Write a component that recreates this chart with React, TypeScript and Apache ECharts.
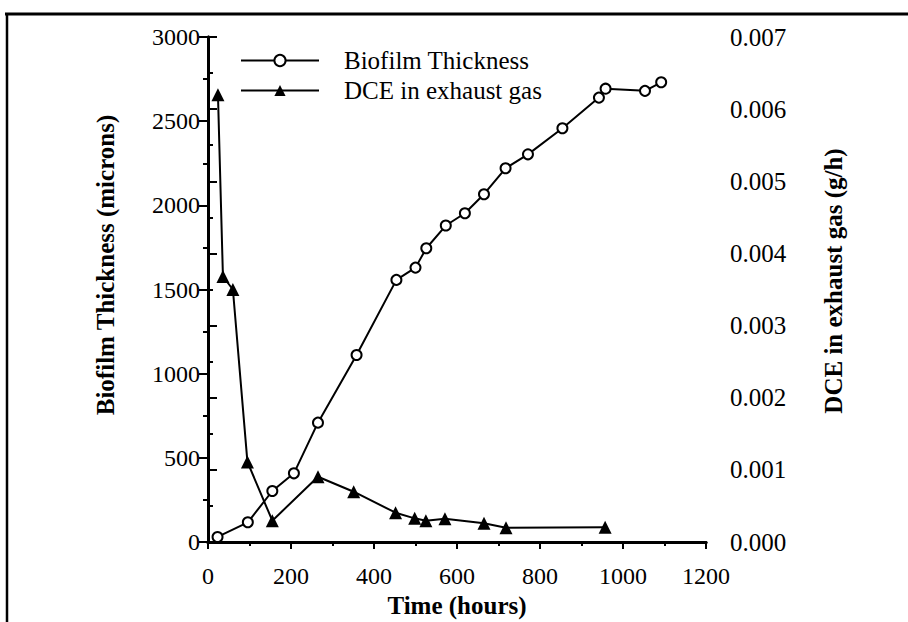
import React, { useEffect, useRef } from "react";
import * as echarts from "echarts";

// Biofilm thickness (microns) vs time (hours)
const timeBio = [23, 96, 155, 207, 265, 358, 454, 500, 526, 573, 619, 665, 717, 771, 854, 942, 958, 1053, 1092];
const thickness = [30, 117, 303, 408, 709, 1111, 1557, 1630, 1745, 1880, 1953, 2066, 2220, 2303, 2458, 2640, 2693, 2680, 2731];

// DCE in exhaust gas (g/h) vs time (hours)
const timeDce = [24, 36, 60, 95, 155, 265, 351, 452, 498, 525, 571, 665, 718, 957];
const dce = [0.0062, 0.00368, 0.0035, 0.00111, 0.000295, 0.000905, 0.000697, 0.000406, 0.000328, 0.000295, 0.000323, 0.000259, 0.000198, 0.000204];

const seriesNames = ["Biofilm Thickness", "DCE in exhaust gas"];
const xTitle = "Time (hours)";
const yLeftTitle = "Biofilm Thickness (microns)";
const yRightTitle = "DCE in exhaust gas (g/h)";

const FONT = "Liberation Serif";

export default function App() {
  const ref = useRef<HTMLDivElement>(null);

  useEffect(() => {
    if (!ref.current) return;
    const chart = echarts.init(ref.current, undefined, { renderer: "svg" });
    const bio = timeBio.map((t, i) => [t, thickness[i]]);
    const gas = timeDce.map((t, i) => [t, dce[i]]);
    const axisLine = { show: true, lineStyle: { color: "#000", width: 3 } };
    const titleStyle = {
      fontFamily: FONT,
      fontSize: 25,
      fontWeight: "bold",
      fill: "#000",
      textAlign: "center",
      textVerticalAlign: "middle",
    };

    chart.setOption({
      animation: false,
      backgroundColor: "#fff",
      grid: { left: 208, right: 202, top: 37, bottom: 80, containLabel: false },
      legend: {
        orient: "vertical",
        left: 235,
        top: 43,
        itemWidth: 78,
        itemHeight: 14,
        itemGap: 5,
        data: seriesNames,
        textStyle: { fontFamily: FONT, fontSize: 25, color: "#000", padding: [4, 0, 0, 20] },
      },
      xAxis: [
        {
          type: "value",
          min: 0,
          max: 1200,
          interval: 200,
          position: "bottom",
          axisLine,
          axisTick: { show: true, length: 7, lineStyle: { color: "#000", width: 2 } },
          minorTick: { show: true, splitNumber: 2, length: 4, lineStyle: { color: "#000", width: 2 } },
          splitLine: { show: false },
          axisLabel: {
            fontFamily: FONT,
            fontSize: 24,
            color: "#000",
            margin: 22,
            formatter: (v: number) => String(v),
          },
        },
        {
          type: "value",
          min: 0,
          max: 1200,
          position: "top",
          axisLine,
          axisTick: { show: false },
          axisLabel: { show: false },
          splitLine: { show: false },
        },
      ],
      yAxis: [
        {
          type: "value",
          min: 0,
          max: 3000,
          interval: 500,
          position: "left",
          axisLine,
          axisTick: { show: true, length: 9, lineStyle: { color: "#000", width: 2 } },
          minorTick: { show: true, splitNumber: 2, length: 5, lineStyle: { color: "#000", width: 2 } },
          splitLine: { show: false },
          axisLabel: {
            fontFamily: FONT,
            fontSize: 24,
            color: "#000",
            margin: 8,
            formatter: (v: number) => String(v),
          },
        },
        {
          type: "value",
          min: 0,
          max: 0.007,
          interval: 0.001,
          position: "right",
          axisLine,
          axisTick: { show: true, length: 9, lineStyle: { color: "#000", width: 2 } },
          minorTick: { show: true, splitNumber: 2, length: 5, lineStyle: { color: "#000", width: 2 } },
          splitLine: { show: false },
          axisLabel: {
            fontFamily: FONT,
            fontSize: 25,
            color: "#000",
            margin: 24,
            formatter: (v: number) => v.toFixed(3),
          },
        },
      ],
      series: [
        {
          name: seriesNames[0],
          type: "line",
          xAxisIndex: 0,
          yAxisIndex: 0,
          data: bio,
          color: "#000",
          symbol: "emptyCircle",
          symbolSize: 10,
          lineStyle: { color: "#000", width: 2 },
          itemStyle: { color: "#000", borderColor: "#000", borderWidth: 2 },
          z: 3,
        },
        {
          name: seriesNames[1],
          type: "line",
          xAxisIndex: 0,
          yAxisIndex: 1,
          data: gas,
          color: "#000",
          symbol: "triangle",
          symbolSize: 13,
          lineStyle: { color: "#000", width: 2 },
          itemStyle: { color: "#000" },
          z: 2,
        },
      ],
      graphic: [
        { type: "line", shape: { x1: 5, y1: 14, x2: 908, y2: 14 }, style: { stroke: "#000", lineWidth: 3 } },
        { type: "line", shape: { x1: 7, y1: 13, x2: 7, y2: 622 }, style: { stroke: "#000", lineWidth: 2.5 } },
        { type: "text", x: 457, y: 605, style: { ...titleStyle, text: xTitle } },
        { type: "text", x: 105, y: 265, rotation: Math.PI / 2, style: { ...titleStyle, text: yLeftTitle } },
        { type: "text", x: 833, y: 281, rotation: Math.PI / 2, style: { ...titleStyle, text: yRightTitle } },
      ],
    });
    return () => chart.dispose();
  }, []);

  return <div ref={ref} style={{ position: "fixed", left: 0, top: 0, width: 908, height: 622 }} />;
}
